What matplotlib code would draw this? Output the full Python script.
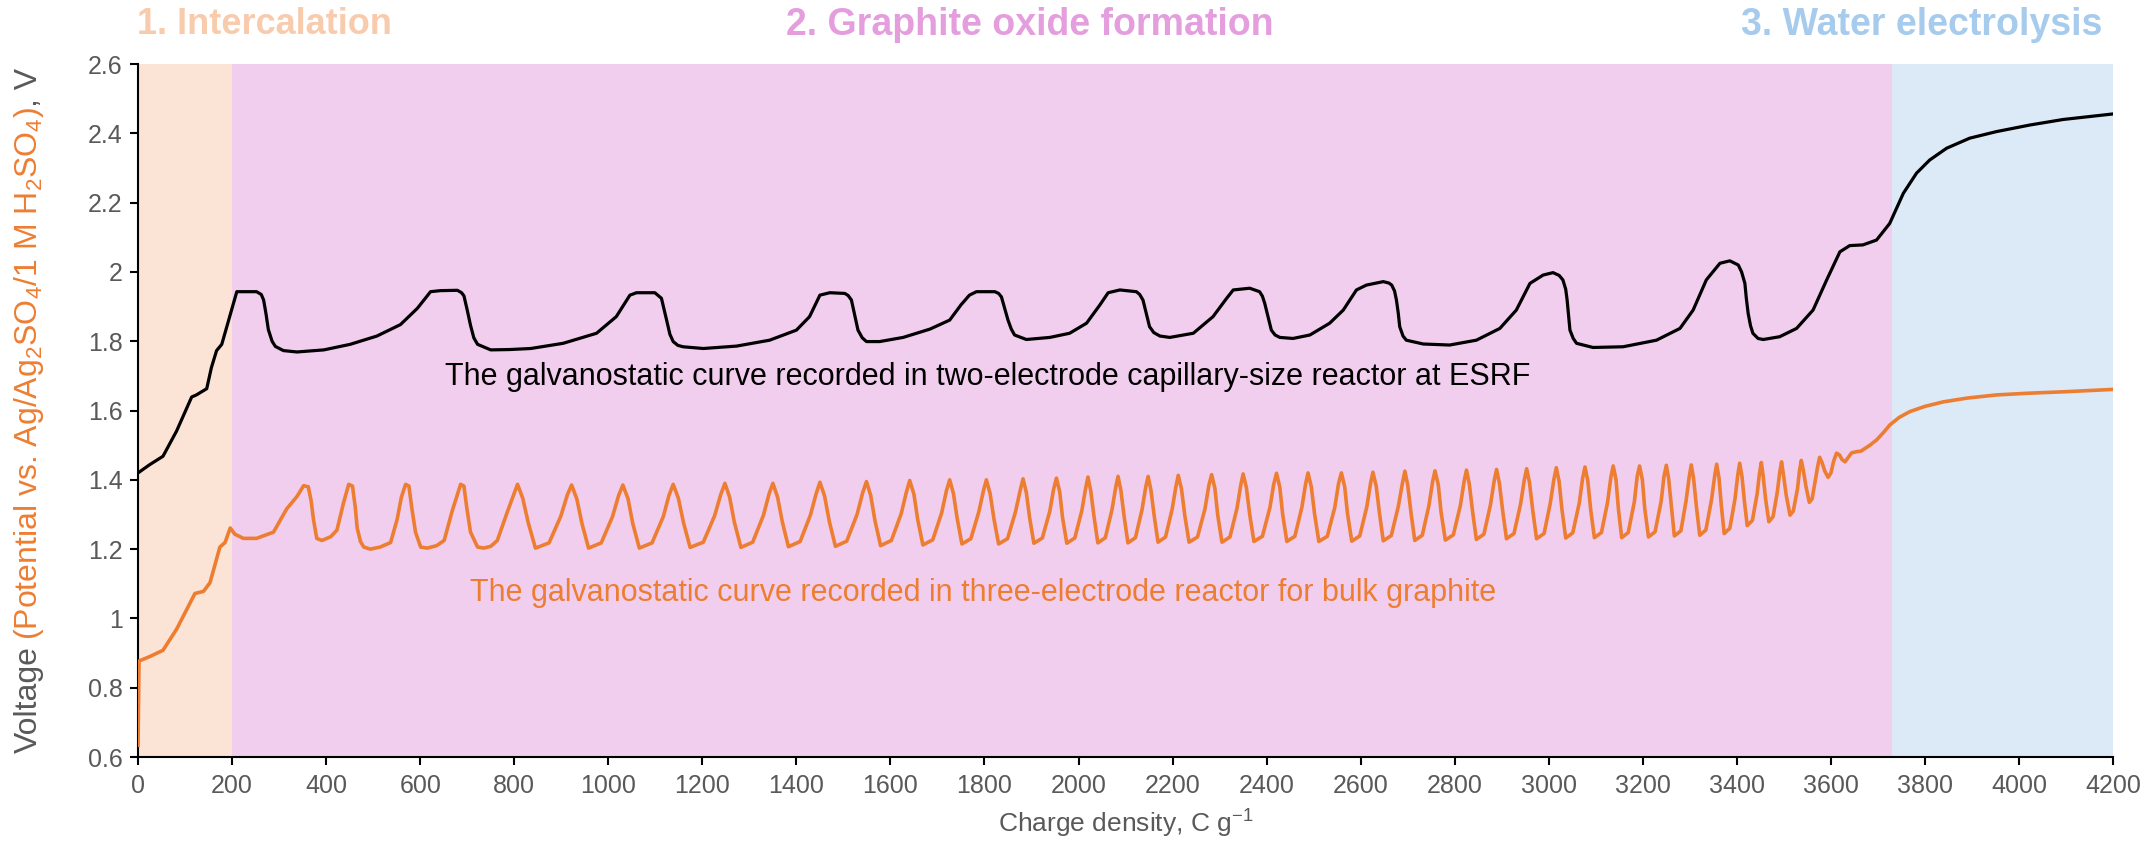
## Galvanostatic curves: capillary reactor vs bulk graphite
import matplotlib
matplotlib.use("Agg")
import matplotlib.pyplot as plt
from matplotlib.ticker import FuncFormatter

# stage limits along the charge axis (C/g)
stage_edges = [0, 200, 3730, 4200]
stage_names = ["1. Intercalation", "2. Graphite oxide formation", "3. Water electrolysis"]

# two-electrode capillary-size reactor at ESRF (black)
esrf_q = [0, 25, 53, 82, 114, 124, 146, 156, 167, 178, 192, 210, 252, 262, 267, 272, 277, 285, 292, 309,
          338, 395, 451, 508, 558, 594, 622, 643, 679, 688, 693, 700, 707, 714, 722, 750, 790, 835,
          904, 975, 1017, 1046, 1060, 1099, 1113, 1119, 1124, 1131, 1138, 1148, 1159, 1202, 1273, 1343,
          1400, 1428, 1450, 1471, 1503, 1510, 1517, 1524, 1531, 1540, 1549, 1577, 1627, 1684,
          1726, 1750, 1768, 1783, 1822, 1830, 1836, 1843, 1850, 1857, 1864, 1889, 1939, 1981, 2017,
          2045, 2063, 2088, 2123, 2130, 2137, 2144, 2151, 2160, 2173, 2194, 2244, 2286, 2315, 2329,
          2364, 2385, 2391, 2396, 2403, 2410, 2418, 2428, 2456, 2492, 2534,
          2563, 2591, 2612, 2648, 2660, 2666, 2672, 2676, 2680, 2683, 2690, 2697, 2733, 2789, 2846,
          2896, 2931, 2960, 2988, 3009, 3022, 3030, 3036, 3039, 3042, 3045, 3052, 3059, 3094, 3158,
          3229, 3279, 3307, 3335, 3364, 3385,
          3403, 3410, 3417, 3420, 3424, 3429, 3434, 3445, 3456, 3491, 3527, 3562, 3591, 3619, 3640,
          3668, 3697, 3725, 3754, 3782, 3810, 3846, 3895, 3952, 4023, 4094, 4200]
esrf_v = [1.420, 1.444, 1.468, 1.541, 1.639, 1.645, 1.663, 1.724, 1.773, 1.791, 1.858, 1.943, 1.943, 1.935,
          1.919, 1.880, 1.834, 1.800, 1.785, 1.773,
          1.769, 1.775, 1.791, 1.815, 1.848, 1.895, 1.943, 1.946, 1.947, 1.940, 1.931, 1.890, 1.846,
          1.810, 1.791, 1.775, 1.776, 1.779,
          1.794, 1.823, 1.871, 1.933, 1.940, 1.940, 1.924, 1.890, 1.861, 1.820, 1.799, 1.788, 1.784,
          1.779, 1.786, 1.803,
          1.832, 1.871, 1.933, 1.940, 1.938, 1.932, 1.919, 1.875, 1.832, 1.810, 1.799, 1.799, 1.811,
          1.835,
          1.861, 1.905, 1.933, 1.943, 1.943, 1.938, 1.928, 1.895, 1.861, 1.835, 1.818, 1.805, 1.811,
          1.823, 1.852,
          1.904, 1.940, 1.948, 1.943, 1.935, 1.919, 1.880, 1.842, 1.825, 1.815, 1.811, 1.823, 1.871,
          1.924, 1.948,
          1.953, 1.943, 1.930, 1.909, 1.870, 1.832, 1.818, 1.811, 1.808, 1.818, 1.852,
          1.890, 1.948, 1.962, 1.972, 1.968, 1.962, 1.945, 1.919, 1.880, 1.842, 1.815, 1.803, 1.792,
          1.789, 1.803,
          1.837, 1.890, 1.967, 1.991, 1.998, 1.990, 1.977, 1.950, 1.919, 1.875, 1.832, 1.808, 1.794,
          1.782, 1.784,
          1.803, 1.837, 1.890, 1.977, 2.025, 2.032,
          2.020, 2.000, 1.967, 1.925, 1.880, 1.845, 1.823, 1.808, 1.805, 1.813, 1.837, 1.890, 1.977,
          2.058, 2.076,
          2.078, 2.092, 2.140, 2.227, 2.285, 2.323, 2.357, 2.386, 2.405, 2.424, 2.440, 2.456]

# three-electrode reactor, bulk graphite (orange)
bulk_q = [0, 2, 25, 53, 82, 121, 139, 153, 174, 185, 196, 206, 224, 252, 288, 316, 338, 352, 362, 368,
          373, 380, 391, 410, 423, 437, 448, 456, 462, 466, 473, 480, 494, 515, 537, 551, 560,
          569, 576, 582, 590, 601, 615, 635, 651, 668, 686, 693, 699, 707, 722, 735, 750, 764, 786,
          807, 818, 830, 845, 874, 899, 913,
          922, 933, 944, 958, 985, 1009, 1022,
          1031, 1042, 1052, 1066, 1093, 1117, 1129,
          1138, 1149, 1160, 1174, 1202, 1226, 1239,
          1248, 1258, 1268, 1282, 1307, 1330, 1342,
          1350, 1360, 1370, 1383, 1408, 1430, 1442,
          1450, 1460, 1470, 1483, 1507, 1529, 1541,
          1549, 1558, 1567, 1579, 1602, 1623, 1634,
          1641, 1650, 1658, 1669, 1690, 1709, 1719,
          1726, 1734, 1742, 1752, 1771, 1788, 1798,
          1804, 1812, 1820, 1830, 1849, 1866, 1876,
          1882, 1889, 1896, 1905, 1923, 1939, 1947,
          1953, 1960, 1966, 1975, 1992, 2007, 2015,
          2020, 2026, 2033, 2041, 2057, 2071, 2079,
          2084, 2090, 2097, 2105, 2121, 2135, 2143,
          2148, 2154, 2161, 2169, 2185, 2199, 2207,
          2212, 2219, 2226, 2235, 2253, 2269, 2277,
          2283, 2290, 2296, 2305, 2322, 2337, 2345,
          2350, 2357, 2364, 2373, 2391, 2407, 2415,
          2421, 2428, 2434, 2443, 2460, 2475, 2483,
          2488, 2495, 2502, 2511, 2529, 2545, 2553,
          2559, 2566, 2572, 2581, 2598, 2613, 2621,
          2626, 2633, 2640, 2648, 2665, 2680, 2689,
          2694, 2700, 2707, 2715, 2731, 2745, 2753,
          2758, 2765, 2771, 2780, 2797, 2812, 2820,
          2825, 2831, 2838, 2846, 2862, 2876, 2884,
          2889, 2895, 2902, 2910, 2926, 2940, 2948,
          2953, 2959, 2966, 2974, 2990, 3003, 3011,
          3016, 3022, 3028, 3036, 3051, 3065, 3072,
          3077, 3083, 3089, 3097, 3112, 3125, 3132,
          3137, 3143, 3148, 3155, 3169, 3182, 3188,
          3193, 3199, 3204, 3212, 3226, 3239, 3245,
          3250, 3255, 3261, 3267, 3281, 3292, 3299,
          3303, 3308, 3314, 3321, 3334, 3346, 3353,
          3357, 3362, 3367, 3373, 3385, 3396, 3402,
          3406, 3411, 3416, 3422, 3433, 3443, 3448,
          3452, 3456, 3461, 3468, 3477, 3486, 3491,
          3495, 3499, 3505, 3513, 3520, 3529, 3533,
          3537, 3541, 3547, 3554, 3560, 3567, 3572,
          3576, 3581, 3587, 3594, 3600, 3606,
          3612, 3618, 3624, 3630, 3637, 3644, 3654, 3664, 3683, 3697, 3712, 3725, 3745, 3768, 3800,
          3839, 3890, 3952, 4020, 4094, 4200]
bulk_v = [0.634, 0.877, 0.890, 0.908, 0.969, 1.072, 1.078, 1.103, 1.206, 1.219, 1.261, 1.243, 1.231,
          1.231, 1.249, 1.316, 1.352, 1.383, 1.380, 1.340,
          1.286, 1.231, 1.225, 1.236, 1.255, 1.334, 1.387, 1.382, 1.320, 1.261, 1.222, 1.206, 1.200,
          1.206, 1.219, 1.286, 1.350,
          1.387, 1.382, 1.320, 1.249, 1.206, 1.203, 1.210, 1.225, 1.310, 1.387, 1.382, 1.320, 1.249,
          1.206, 1.203, 1.208, 1.225, 1.310,
          1.387, 1.347, 1.275, 1.203, 1.218, 1.295, 1.357,
          1.385, 1.345, 1.274, 1.203, 1.218, 1.294, 1.355,
          1.385, 1.345, 1.274, 1.203, 1.218, 1.294, 1.355,
          1.387, 1.347, 1.276, 1.205, 1.220, 1.296, 1.357,
          1.390, 1.350, 1.278, 1.205, 1.220, 1.298, 1.360,
          1.390, 1.350, 1.279, 1.207, 1.222, 1.299, 1.360,
          1.393, 1.353, 1.280, 1.208, 1.223, 1.300, 1.363,
          1.395, 1.355, 1.283, 1.210, 1.225, 1.303, 1.365,
          1.398, 1.358, 1.285, 1.212, 1.227, 1.305, 1.368,
          1.400, 1.360, 1.288, 1.215, 1.230, 1.308, 1.370,
          1.400, 1.360, 1.288, 1.215, 1.230, 1.308, 1.370,
          1.403, 1.363, 1.290, 1.217, 1.232, 1.310, 1.373,
          1.405, 1.365, 1.291, 1.217, 1.232, 1.311, 1.375,
          1.408, 1.368, 1.293, 1.218, 1.233, 1.313, 1.378,
          1.410, 1.370, 1.294, 1.218, 1.233, 1.314, 1.380,
          1.410, 1.370, 1.295, 1.220, 1.235, 1.315, 1.380,
          1.413, 1.373, 1.297, 1.220, 1.235, 1.317, 1.383,
          1.415, 1.375, 1.298, 1.220, 1.235, 1.318, 1.385,
          1.417, 1.377, 1.300, 1.222, 1.237, 1.320, 1.387,
          1.419, 1.379, 1.301, 1.222, 1.237, 1.321, 1.389,
          1.420, 1.380, 1.301, 1.222, 1.237, 1.321, 1.390,
          1.420, 1.380, 1.302, 1.223, 1.238, 1.322, 1.390,
          1.422, 1.382, 1.303, 1.224, 1.239, 1.323, 1.392,
          1.425, 1.385, 1.305, 1.225, 1.240, 1.325, 1.395,
          1.426, 1.386, 1.306, 1.226, 1.241, 1.326, 1.396,
          1.428, 1.388, 1.308, 1.228, 1.243, 1.328, 1.398,
          1.430, 1.390, 1.310, 1.230, 1.245, 1.330, 1.400,
          1.432, 1.392, 1.311, 1.230, 1.245, 1.331, 1.402,
          1.435, 1.395, 1.314, 1.232, 1.247, 1.334, 1.405,
          1.437, 1.397, 1.315, 1.233, 1.248, 1.335, 1.407,
          1.440, 1.400, 1.317, 1.233, 1.248, 1.337, 1.410,
          1.440, 1.400, 1.318, 1.235, 1.250, 1.338, 1.410,
          1.442, 1.402, 1.320, 1.238, 1.253, 1.340, 1.412,
          1.443, 1.403, 1.322, 1.240, 1.255, 1.342, 1.413,
          1.445, 1.405, 1.325, 1.245, 1.260, 1.345, 1.415,
          1.448, 1.408, 1.338, 1.268, 1.283, 1.359, 1.418,
          1.450, 1.410, 1.345, 1.279, 1.294, 1.365, 1.420,
          1.452, 1.415, 1.355, 1.298, 1.310, 1.375, 1.425,
          1.456, 1.430, 1.380, 1.335, 1.345, 1.400, 1.440,
          1.465, 1.450, 1.425, 1.407, 1.420, 1.455,
          1.477, 1.472, 1.458, 1.452, 1.465, 1.478, 1.481, 1.483, 1.500, 1.515, 1.537, 1.558, 1.580,
          1.597, 1.612,
          1.625, 1.636, 1.645, 1.650, 1.654, 1.661]

x_ticks = list(range(0, 4201, 200))
y_ticks = [0.6, 0.8, 1.0, 1.2, 1.4, 1.6, 1.8, 2.0, 2.2, 2.4, 2.6]

ORANGE = "#ED7D31"
GREY = "#595959"
FONT = ["Liberation Sans", "DejaVu Sans"]


def main():

    plt.rcParams["font.family"] = FONT
    plt.rcParams["mathtext.default"] = "regular"

    fig = plt.figure(figsize=(21.47, 8.63), dpi=100)
    ax = fig.add_axes([0.0643, 0.1228, 0.9199, 0.803])

    band_colors = ["#FBE3D6", "#F1CEEE", "#DCE9F6"]
    title_colors = ["#F8CBAD", "#E49EDD", "#A6CBEC"]
    for i in range(3):
        ax.axvspan(stage_edges[i], stage_edges[i + 1], color=band_colors[i], lw=0, zorder=0)

    ax.plot(esrf_q, esrf_v, color="black", lw=2.3, zorder=3, solid_joinstyle="round")
    ax.plot(bulk_q, bulk_v, color=ORANGE, lw=2.6, zorder=3, solid_joinstyle="round")

    ax.set_xlim(0, 4200)
    ax.set_ylim(0.6, 2.6)
    ax.set_xticks(x_ticks)
    ax.set_yticks(y_ticks)
    ax.yaxis.set_major_formatter(FuncFormatter(lambda v, p: "{:g}".format(round(v, 1))))
    ax.tick_params(direction="out", length=6, width=1.5, colors="black", labelcolor=GREY,
                   labelsize=18)
    ax.tick_params(axis="x", pad=6)
    ax.tick_params(axis="y", pad=5)
    for s in ["top", "right"]:
        ax.spines[s].set_visible(False)
    for s in ["left", "bottom"]:
        ax.spines[s].set_linewidth(1.5)

    ax.set_xlabel("Charge density, C g$^{-1}$", fontsize=19, color=GREY, labelpad=7)

    # curve captions
    ax.text(653, 1.697, "The galvanostatic curve recorded in two-electrode capillary-size reactor at ESRF",
            fontsize=22, color="black", ha="left", va="center")
    ax.text(706, 1.073, "The galvanostatic curve recorded in three-electrode reactor for bulk graphite",
            fontsize=22, color=ORANGE, ha="left", va="center")

    # stage titles above the axes
    ytit = 1 - 25 / 863.
    fig.text(137 / 2147., ytit, stage_names[0], fontsize=26, fontweight="bold",
             color=title_colors[0], ha="left", va="center")
    fig.text(1030 / 2147., ytit, stage_names[1], fontsize=27, fontweight="bold",
             color=title_colors[1], ha="center", va="center")
    fig.text(2102 / 2147., ytit, stage_names[2], fontsize=27, fontweight="bold",
             color=title_colors[2], ha="right", va="center")

    # y label in three colours, stacked along the rotated baseline
    fig.canvas.draw()
    r = fig.canvas.get_renderer()
    parts = [("Voltage", GREY), ("(Potential vs. Ag/Ag$_2$SO$_4$/1 M H$_2$SO$_4$)", ORANGE), (", V", GREY)]
    gaps = [6, 0, 0]
    fs_y = 23
    lengths = []
    for s, c in parts:
        t = fig.text(0, 0, s, rotation=90, fontsize=fs_y)
        lengths.append(t.get_window_extent(r).height)
        t.remove()
    H = fig.get_size_inches()[1] * fig.dpi
    W = fig.get_size_inches()[0] * fig.dpi
    axbb = ax.get_window_extent(r)
    total = sum(lengths) + sum(gaps)
    y = (axbb.y0 + axbb.y1) / 2 - total / 2
    xb = 37 / W
    for (s, c), L, g in zip(parts, lengths, gaps):
        fig.text(xb, y / H, s, rotation=90, rotation_mode="anchor", ha="left", va="baseline",
                 fontsize=fs_y, color=c)
        y += L + g

    fig.savefig("out.png", dpi=100, facecolor="white")


if __name__ == "__main__":
    main()
